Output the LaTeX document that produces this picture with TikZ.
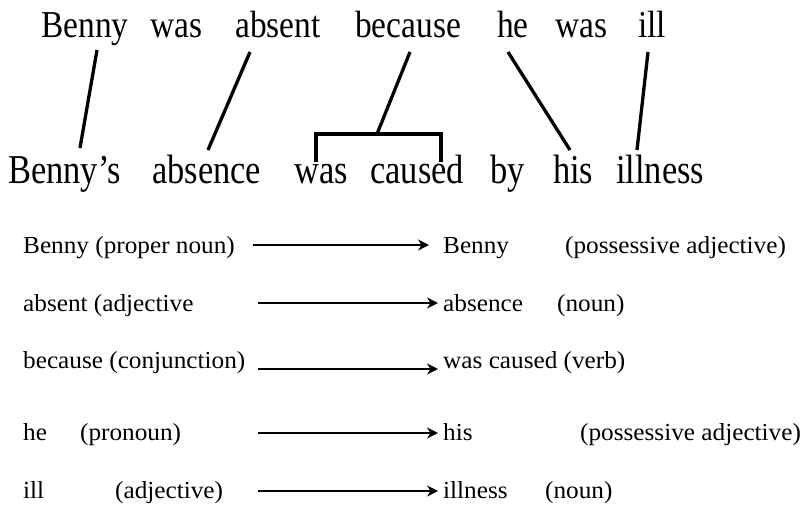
\documentclass[tikz,border=0pt]{standalone}
\usepackage{fontspec}
\setmainfont{Liberation Serif}
\newfontfamily\topfont[FakeStretch=0.88]{Liberation Serif}
\newfontfamily\midfont[FakeStretch=0.84]{Liberation Serif}
\newfontfamily\lowfont[FakeStretch=1.03]{Liberation Serif}
\usetikzlibrary{arrows.meta}
\begin{document}
\begin{tikzpicture}[x=1pt,y=-1pt,
  big/.style={anchor=base west,inner sep=0pt,font=\topfont\fontsize{38}{42}\selectfont},
  mid/.style={anchor=base west,inner sep=0pt,font=\midfont\fontsize{41}{45}\selectfont},
  small/.style={anchor=base west,inner sep=0pt,font=\lowfont\fontsize{24.5}{28}\selectfont},
  link/.style={line width=3.3pt},
  arr/.style={line width=2.8pt,-{Stealth[length=11pt,width=11pt]}}]
\useasboundingbox (0,0) rectangle (804,509);
% original sentence
\node[big] (b1) at (41,37) {Benny};
\node[big] (b2) at (150,37) {was};
\node[big] (b3) at (235,37) {absent};
\node[big] (b4) at (355,37) {because};
\node[big] (b5) at (497,37) {he};
\node[big] (b6) at (555,37) {was};
\node[big] (b7) at (638,37) {ill};
% nominalised sentence
\node[mid] (n1) at (8,183) {Benny’s};
\node[mid] (n2) at (152,183) {absence};
\node[mid] (n3) at (294,183) {was};
\node[mid] (n4) at (370,183) {caused};
\node[mid] (n5) at (490,183) {by};
\node[mid] (n6) at (553,183) {his};
\node[mid] (n7) at (616,183) {illness};
% end points of the links
\coordinate (u1) at (97,50);  \coordinate (d1) at (80,148);
\coordinate (u3) at (250,52); \coordinate (d2) at (208,150);
\coordinate (u4) at (410,52); \coordinate (bt) at (377,134);
\coordinate (bl) at (316,134); \coordinate (br) at (441,134);
\coordinate (bl2) at (316,162); \coordinate (br2) at (441,162);
\coordinate (u5) at (508,52); \coordinate (d6) at (570,150);
\coordinate (u7) at (648,52); \coordinate (d7) at (637,150);
\draw[link] (u1) -- (d1);
\draw[link] (u3) -- (d2);
\draw[link] (u4) -- (bt);
\draw[link] (bl2) -- (bl) -- (br) -- (br2);
\draw[link] (u5) -- (d6);
\draw[link] (u7) -- (d7);
% word-class table
\node[small] (l1) at (23,253) {Benny (proper noun)};
\node[small] (l2) at (23,311) {absent (adjective};
\node[small] (l3) at (23,368) {because (conjunction)};
\node[small] (l4) at (23,440) {he};
\node[small] (l4b) at (80,440) {(pronoun)};
\node[small] (l5) at (23,498) {ill};
\node[small] (l5b) at (115,498) {(adjective)};
\node[small] (r1) at (443,253) {Benny};
\node[small] (r1b) at (565,253) {(possessive adjective)};
\node[small] (r2) at (443,311) {absence};
\node[small] (r2b) at (557,311) {(noun)};
\node[small] (r3) at (443,368) {was caused (verb)};
\node[small] (r4) at (443,440) {his};
\node[small] (r4b) at (580,440) {(possessive adjective)};
\node[small] (r5) at (443,498) {illness};
\node[small] (r5b) at (545,498) {(noun)};
\coordinate (s1) at (253,245); \coordinate (e1) at (429,245);
\coordinate (s2) at (258,303); \coordinate (e2) at (438,303);
\coordinate (s3) at (258,369); \coordinate (e3) at (438,369);
\coordinate (s4) at (258,433); \coordinate (e4) at (438,433);
\coordinate (s5) at (258,491); \coordinate (e5) at (438,491);
\draw[arr] (s1) -- (e1);
\draw[arr] (s2) -- (e2);
\draw[arr] (s3) -- (e3);
\draw[arr] (s4) -- (e4);
\draw[arr] (s5) -- (e5);
\end{tikzpicture}
\end{document}
